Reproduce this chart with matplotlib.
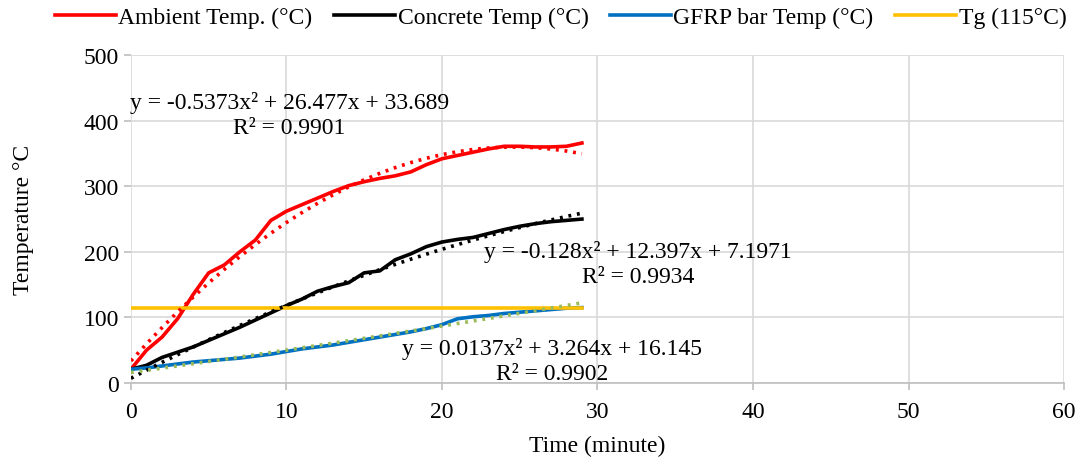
import numpy as np
import matplotlib
matplotlib.use("Agg")
import matplotlib.pyplot as plt

plt.rcParams['font.family'] = ['Liberation Serif', 'DejaVu Serif']

# mesures (une valeur par minute)
time_min = list(range(30))
ambient = [21, 50, 70, 98, 135, 168, 180, 200, 218, 248,
           262, 272, 282, 292, 301, 307, 312, 316, 322, 333,
           342, 347, 352, 357, 361, 361, 360, 360, 361, 366]
concrete = [21, 27, 39, 47, 55, 65, 75, 85, 96, 107,
            118, 128, 140, 147, 153, 168, 171, 188, 197, 208,
            215, 219, 222, 228, 234, 239, 243, 246, 248, 250]
gfrp = [21, 23, 26, 29, 32, 34, 36, 38, 41, 44,
        48, 52, 55, 58, 62, 66, 70, 74, 78, 83,
        89, 98, 101, 103, 106, 108, 110, 112, 114, 115]
tg = 115

# coefficients des courbes de tendance (polynome d'ordre 2)
coef_ambient = [-0.5373, 26.477, 33.689]
coef_concrete = [-0.128, 12.397, 7.1971]
coef_gfrp = [0.0137, 3.264, 16.145]

t = np.array(time_min, dtype=float)
fs = 17

fig = plt.figure(figsize=(10.82, 4.64), dpi=100)
ax = fig.add_axes([0.121, 0.1724, 0.8624, 0.7066])

grid_col = '#D9D9D9'
ax.set_xlim(0, 60)
ax.set_ylim(0, 500)
ax.set_xticks(range(0, 61, 10))
ax.set_yticks(range(0, 501, 100))
ax.grid(True, color=grid_col, linewidth=1.2)
ax.set_axisbelow(True)
for s in ['top', 'right', 'left']:
    ax.spines[s].set_visible(False)
ax.spines['bottom'].set_color('#BFBFBF')
ax.spines['bottom'].set_linewidth(1.2)
ax.tick_params(axis='both', colors='#BFBFBF', length=5, width=1.2,
               labelcolor='black', labelsize=fs)
ax.tick_params(axis='x', pad=8)

l1, = ax.plot(time_min, ambient, color='#FF0000', lw=2.6, label='Ambient Temp. (°C)')
l2, = ax.plot(time_min, concrete, color='black', lw=2.6, label='Concrete Temp (°C)')
l3, = ax.plot(time_min, gfrp, color='#0070C0', lw=2.6, label='GFRP bar Temp (°C)')
l4, = ax.plot([time_min[0], time_min[-1]], [tg, tg], color='#FFC000', lw=2.6, label='Tg (115°C)')

# courbes de tendance en pointillé
ax.plot(t, np.polyval(coef_ambient, t), color='#FF0000', lw=2.6, ls=(0, (0.8, 1.6)))
ax.plot(t, np.polyval(coef_concrete, t), color='black', lw=2.6, ls=(0, (0.8, 1.6)))
ax.plot(t, np.polyval(coef_gfrp, t), color='#9BBB59', lw=2.6, ls=(0, (0.8, 1.6)))

ax.text(10.2, 410, 'y = -0.5373x² + 26.477x + 33.689\nR² = 0.9901', ha='center', va='center',
        fontsize=fs, linespacing=1.25)
ax.text(32.6, 183, 'y = -0.128x² + 12.397x + 7.1971\nR² = 0.9934', ha='center', va='center',
        fontsize=fs, linespacing=1.25)
ax.text(27.1, 34, 'y = 0.0137x² + 3.264x + 16.145\nR² = 0.9902', ha='center', va='center',
        fontsize=fs, linespacing=1.25)

ax.set_xlabel('Time (minute)', fontsize=fs)
ax.set_ylabel('Temperature °C', fontsize=fs)
ax.xaxis.set_label_coords(0.5, -0.159)
ax.yaxis.set_label_coords(-0.104, 0.5)

fig.legend(handles=[l1, l2, l3, l4], loc='center', bbox_to_anchor=(0.518, 0.96),
           ncol=4, frameon=False, fontsize=fs, handlelength=2.6, handletextpad=0.1,
           columnspacing=0.9)

fig.savefig('out.png', dpi=100)
